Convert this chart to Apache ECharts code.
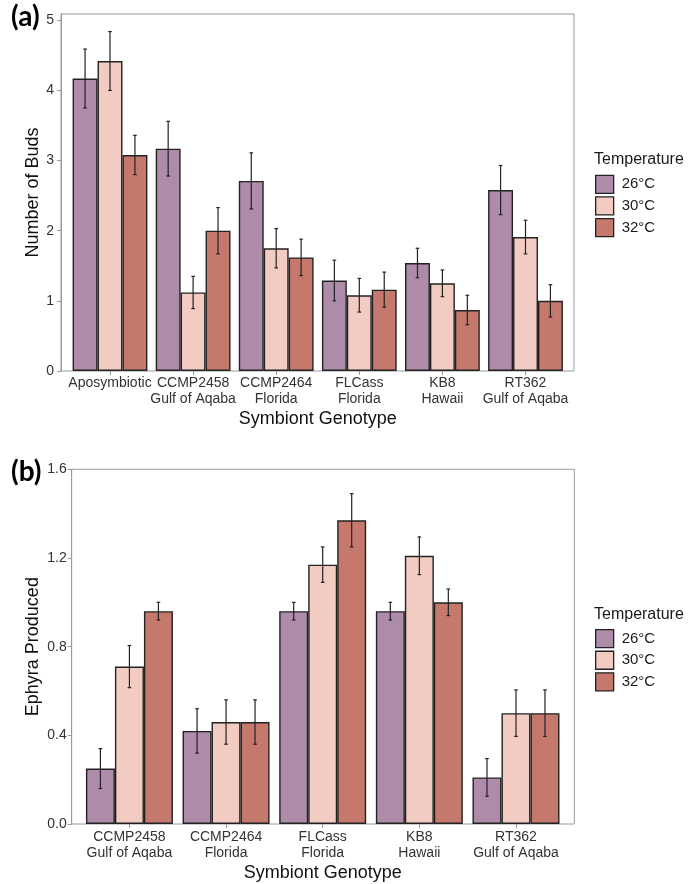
<!DOCTYPE html>
<html>
<head>
<meta charset="utf-8">
<script src="https://cdn.jsdelivr.net/npm/echarts@6/dist/echarts.min.js"></script>
<style>
  html, body { margin: 0; padding: 0; background: #fff; }
  #chart { width: 688px; height: 884px; }
</style>
</head>
<body>
<div id="chart"></div>
<script>
// panel (a): number of buds
var budCats = ['Aposymbiotic', 'CCMP2458\nGulf of Aqaba', 'CCMP2464\nFlorida', 'FLCass\nFlorida', 'KB8\nHawaii', 'RT362\nGulf of Aqaba'];
var bud26 = [4.17, 3.17, 2.71, 1.29, 1.54, 2.58];
var bud26se = [0.42, 0.39, 0.40, 0.29, 0.21, 0.35];
var bud30 = [4.42, 1.12, 1.75, 1.08, 1.25, 1.91];
var bud30se = [0.42, 0.23, 0.28, 0.24, 0.19, 0.24];
var bud32 = [3.08, 2.00, 1.62, 1.16, 0.87, 1.00];
var bud32se = [0.28, 0.33, 0.26, 0.25, 0.21, 0.23];
var budTicks = [0, 1, 2, 3, 4, 5];

// panel (b): ephyra produced
var ephCats = ['CCMP2458\nGulf of Aqaba', 'CCMP2464\nFlorida', 'FLCass\nFlorida', 'KB8\nHawaii', 'RT362\nGulf of Aqaba'];
var eph26 = [0.25, 0.42, 0.96, 0.96, 0.21];
var eph26se = [0.09, 0.10, 0.04, 0.04, 0.085];
var eph30 = [0.71, 0.46, 1.17, 1.21, 0.50];
var eph30se = [0.095, 0.10, 0.08, 0.085, 0.105];
var eph32 = [0.96, 0.46, 1.37, 1.00, 0.50];
var eph32se = [0.04, 0.10, 0.12, 0.06, 0.105];
var ephTicks = [0, 0.4, 0.8, 1.2, 1.6];

var temps = ['26°C', '30°C', '32°C'];
var colors = ['#ad8ba9', '#f2cbc3', '#c5796c'];

var FONT = 'Liberation Sans';
var GRAY = '#9a9a9a';
var INK = '#222';

var chart = echarts.init(document.getElementById('chart'));

function errRender(k) {
    return function (params, api) {
        var x = api.value(0);
        var lo = api.coord([x, api.value(1)]);
        var hi = api.coord([x, api.value(2)]);
        var band = api.size([1, 0])[0];
        var cx = lo[0] + (k - 1) * band * 0.3;
        var c = 1.8;
        var st = { stroke: INK, lineWidth: 1.2 };
        return {
            type: 'group',
            children: [
                { type: 'line', shape: { x1: cx, y1: lo[1], x2: cx, y2: hi[1] }, style: st },
                { type: 'line', shape: { x1: cx - c, y1: lo[1], x2: cx + c, y2: lo[1] }, style: st },
                { type: 'line', shape: { x1: cx - c, y1: hi[1], x2: cx + c, y2: hi[1] }, style: st }
            ]
        };
    };
}

function barSeries(k, data, axis) {
    return {
        name: temps[k],
        type: 'bar',
        xAxisIndex: axis,
        yAxisIndex: axis,
        data: data,
        barWidth: '30%',
        barGap: '0%',
        itemStyle: { color: colors[k], borderColor: INK, borderWidth: 1.4 },
        emphasis: { disabled: true },
        z: 2
    };
}

function errSeries(k, means, ses, axis) {
    return {
        type: 'custom',
        xAxisIndex: axis,
        yAxisIndex: axis,
        renderItem: errRender(k),
        encode: { x: 0, y: [1, 2] },
        data: means.map(function (m, i) { return [i, m - ses[i], m + ses[i]]; }),
        z: 3
    };
}

function frameY(grid, max, ticks, fmt, margin, name, gap) {
    return {
        type: 'value', gridIndex: grid, min: 0, max: max,
        name: name, nameLocation: 'middle', nameGap: gap, nameMoveOverlap: false,
        nameTextStyle: { fontFamily: FONT, fontSize: 18, color: '#111' },
        axisLine: { show: true, lineStyle: { color: GRAY, width: 1 } },
        axisTick: { show: true, length: 4, customValues: ticks, lineStyle: { color: GRAY } },
        axisLabel: { customValues: ticks, margin: margin, fontFamily: FONT, fontSize: 14, color: '#333', formatter: fmt },
        splitLine: { show: false }
    };
}

function innerX(cats, grid, labelMargin, nameGap) {
    return {
        type: 'category', gridIndex: grid, data: cats,
        name: 'Symbiont Genotype', nameLocation: 'middle', nameGap: nameGap, nameMoveOverlap: false,
        nameTextStyle: { fontFamily: FONT, fontSize: 18, color: '#111' },
        axisLine: { show: false },
        axisTick: { show: true, alignWithLabel: true, length: 4, lineStyle: { color: GRAY } },
        axisLabel: { interval: 0, margin: labelMargin, fontFamily: FONT, fontSize: 14, lineHeight: 16, color: '#333' }
    };
}

var legendBase = {
    orient: 'vertical',
    data: temps,
    padding: 0,
    itemWidth: 18,
    itemHeight: 18,
    itemGap: 2.3,
    icon: 'rect',
    selectedMode: false,
    itemStyle: { borderColor: INK, borderWidth: 1.3 },
    textStyle: { fontFamily: FONT, fontSize: 15, lineHeight: 18, color: '#1a1a1a', padding: [0, 0, 0, 3] }
};

var option = {
    animation: false,
    backgroundColor: '#fff',
    title: [
        { text: '(a)', left: 11, top: 3, padding: 0, textStyle: { fontFamily: 'Lato', fontWeight: 'bold', fontSize: 28, color: '#000' } },
        { text: '(b)', left: 11, top: 458, padding: 0, textStyle: { fontFamily: 'Lato', fontWeight: 'bold', fontSize: 28, color: '#000' } },
        { text: 'Temperature', left: 594, top: 152, padding: 0, textStyle: { fontFamily: FONT, fontWeight: 'normal', fontSize: 16, color: '#1a1a1a' } },
        { text: 'Temperature', left: 594, top: 607, padding: 0, textStyle: { fontFamily: FONT, fontWeight: 'normal', fontSize: 16, color: '#1a1a1a' } }
    ],
    legend: [
        Object.assign({}, legendBase, { left: 595, top: 174.7 }),
        Object.assign({}, legendBase, { left: 595, top: 629 })
    ],
    grid: [
        { left: 61, top: 14, width: 513, height: 357, show: true, borderColor: GRAY, borderWidth: 1, backgroundColor: 'transparent' },
        { left: 68.45, top: 14, width: 498.6, height: 357 },
        { left: 71.7, top: 469.3, width: 502.6, height: 354.7, show: true, borderColor: GRAY, borderWidth: 1, backgroundColor: 'transparent' },
        { left: 81.1, top: 469.3, width: 483.2, height: 354.7 }
    ],
    xAxis: [
        { type: 'value', gridIndex: 0, show: false },
        innerX(budCats, 1, 4, 39),
        { type: 'value', gridIndex: 2, show: false },
        innerX(ephCats, 3, 5, 40)
    ],
    yAxis: [
        frameY(0, 5.09, budTicks, function (v) { return String(v); }, 7, 'Number of Buds', 19),
        { type: 'value', gridIndex: 1, min: 0, max: 5.09, show: false },
        frameY(2, 1.6, ephTicks, function (v) { return v.toFixed(1); }, 5, 'Ephyra Produced', 30),
        { type: 'value', gridIndex: 3, min: 0, max: 1.6, show: false }
    ],
    series: [
        barSeries(0, bud26, 1), barSeries(1, bud30, 1), barSeries(2, bud32, 1),
        errSeries(0, bud26, bud26se, 1), errSeries(1, bud30, bud30se, 1), errSeries(2, bud32, bud32se, 1),
        barSeries(0, eph26, 3), barSeries(1, eph30, 3), barSeries(2, eph32, 3),
        errSeries(0, eph26, eph26se, 3), errSeries(1, eph30, eph30se, 3), errSeries(2, eph32, eph32se, 3)
    ]
};

chart.setOption(option);
</script>
</body>
</html>
